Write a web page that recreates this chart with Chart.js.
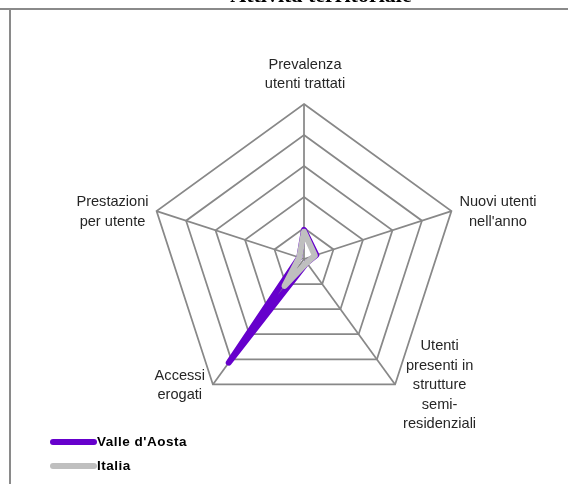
<!DOCTYPE html>
<html>
<head>
<meta charset="utf-8">
<script src="https://cdn.jsdelivr.net/npm/chart.js@4.4.0/dist/chart.umd.min.js"></script>
<style>
  html, body { margin:0; padding:0; background:#fff; }
  #wrap { position:relative; width:568px; height:484px; overflow:hidden; background:#fff; }
  #chart { position:absolute; left:0; top:0; }
  .hline { position:absolute; left:0; top:8px; width:568px; height:2px; background:#8a8a8a; }
  .vline { position:absolute; left:9px; top:8px; width:2px; height:476px; background:#8a8a8a; }
  .title { position:absolute; left:0; width:642px; top:-16px; text-align:center;
           font:bold 22px "Liberation Serif", serif; color:#000; line-height:22px; }
  .legend { position:absolute; left:50px; font:bold 13.5px "Liberation Sans", Arial, sans-serif; color:#000; letter-spacing:0.5px; }
  .legend .item { position:absolute; left:0; white-space:nowrap; height:16px; }
  .legend .sw { position:absolute; left:0; top:5px; width:47px; height:6px; border-radius:3px; }
  .legend .tx { position:absolute; left:47px; top:0; line-height:16px; }
</style>
</head>
<body>
<div id="wrap">
  <canvas id="chart" width="568" height="484"></canvas>
  <div class="title">Attività territoriale</div>
  <div class="hline"></div>
  <div class="vline"></div>
  <div class="legend" id="legend"></div>
</div>
<script>
const categories = [
  ['Prevalenza', 'utenti trattati'],
  ['Nuovi utenti', "nell'anno"],
  ['Utenti', 'presenti in', 'strutture', 'semi-', 'residenziali'],
  ['Accessi', 'erogati'],
  ['Prestazioni', 'per utente']
];
const seriesNames = ["Valle d'Aosta", 'Italia'];
const valleAosta = [0.94, 0.42, 0.15, 4.13, 0.16];
const italia = [0.88, 0.37, 0.15, 1.07, 0.16];
const seriesColors = ['#6600cc', '#bfbfbf'];

// legend (HTML)
const legendEl = document.getElementById('legend');
const legendTops = [434, 458];
seriesNames.forEach((n, i) => {
  const it = document.createElement('div');
  it.className = 'item';
  it.style.top = legendTops[i] + 'px';
  it.innerHTML = '<span class="sw" style="background:' + seriesColors[i] + '"></span><span class="tx">' + n + '</span>';
  legendEl.appendChild(it);
});

const labelPlugin = {
  id: 'customPointLabels',
  afterDraw(chart) {
    const scale = chart.scales.r;
    const ctx = chart.ctx;
    const lh = 19.5;
    ctx.save();
    ctx.font = '14.6px "Liberation Sans", Arial, sans-serif';
    ctx.fillStyle = '#262626';
    ctx.textBaseline = 'middle';
    ctx.textAlign = 'center';
    categories.forEach((lines, i) => {
      const v = scale.getPointPosition(i, scale.drawingArea);
      const w = Math.max(...lines.map(l => ctx.measureText(l).width));
      const h = lines.length * lh;
      let cx, top;
      if (i === 0) {
        cx = v.x + 1; top = v.y - 10 - h;
      } else if (v.x > scale.xCenter) {
        cx = v.x + 8 + w / 2; top = v.y - h / 2 + 1;
      } else {
        cx = v.x - 8 - w / 2; top = v.y - h / 2 + 1;
      }
      lines.forEach((l, k) => ctx.fillText(l, cx, top + lh * k + lh / 2));
    });
    ctx.restore();
  }
};

new Chart(document.getElementById('chart'), {
  type: 'radar',
  data: {
    labels: categories,
    datasets: [
      { label: seriesNames[0], data: valleAosta, borderColor: seriesColors[0], order: 1 },
      { label: seriesNames[1], data: italia, borderColor: seriesColors[1], order: 0 }
    ]
  },
  options: {
    responsive: false,
    animation: false,
    devicePixelRatio: 1,
    layout: { padding: { left: 149, right: 109, top: 104, bottom: 70 } },
    elements: {
      line: { borderWidth: 6, fill: false, tension: 0, borderCapStyle: 'round', borderJoinStyle: 'round' },
      point: { radius: 0, hoverRadius: 0 }
    },
    plugins: { legend: { display: false }, title: { display: false }, tooltip: { enabled: false } },
    scales: {
      r: {
        min: 0, max: 5,
        ticks: { display: false, stepSize: 1 },
        pointLabels: { display: false },
        grid: { color: '#888888', lineWidth: 1.75, circular: false },
        angleLines: { color: '#888888', lineWidth: 1.75 }
      }
    }
  },
  plugins: [labelPlugin]
});
</script>
</body>
</html>
